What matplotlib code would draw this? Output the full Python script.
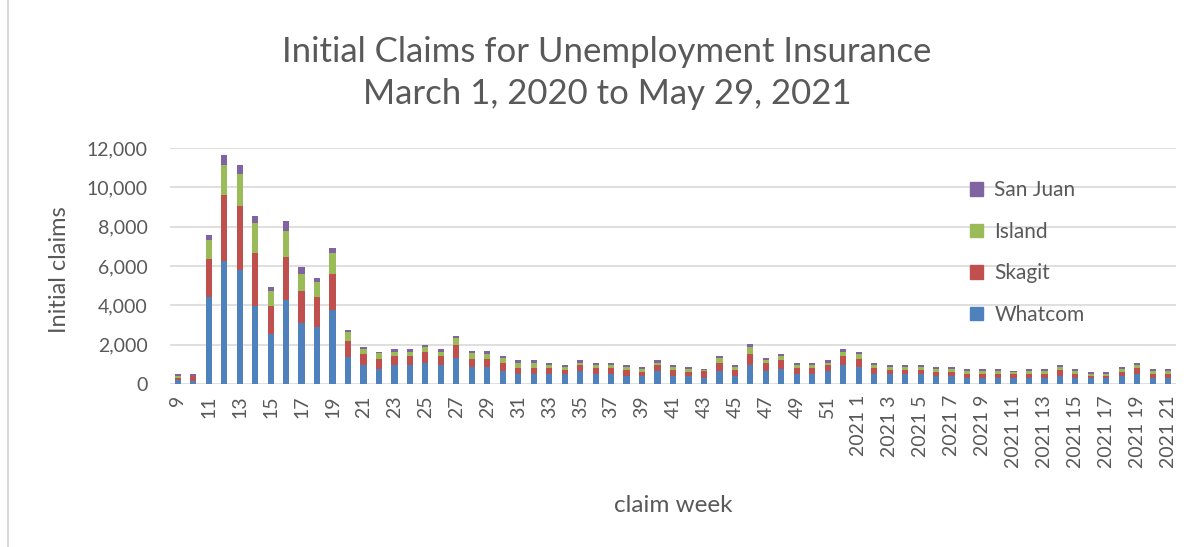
import matplotlib
matplotlib.use("Agg")
import matplotlib.pyplot as plt
import numpy as np
from matplotlib.patches import Patch
from matplotlib.lines import Line2D

weeks_2020 = list(range(9, 53))
weeks_2021 = list(range(1, 22))
categories = [str(w) for w in weeks_2020] + ["2021 " + str(w) for w in weeks_2021]

whatcom = [200, 170, 4400, 6240, 5800, 3980, 2560, 4290, 3100, 2880, 3760, 1390, 960, 740,
           960, 960, 1080, 960, 1310, 850, 850, 640, 530, 530, 530, 530, 640, 530, 530, 420,
           420, 640, 420, 420, 300, 640, 420, 960, 640, 740, 530, 530, 640, 960,
           850, 530, 530, 530, 530, 420, 420, 300, 300, 300, 300, 300, 300, 420, 300, 300,
           300, 420, 530, 300, 300]
skagit = [100, 240, 1940, 3360, 3250, 2700, 1390, 2150, 1610, 1530, 1810, 780, 570, 550,
          460, 460, 550, 460, 670, 440, 440, 440, 300, 300, 300, 190, 320, 300, 300, 300,
          210, 320, 300, 210, 340, 440, 300, 570, 440, 460, 300, 300, 320, 460,
          440, 300, 190, 190, 190, 210, 210, 230, 230, 230, 200, 230, 230, 300, 230, 120,
          120, 210, 300, 230, 230]
island = [100, 20, 1000, 1540, 1640, 1520, 800, 1320, 900, 760, 1100, 450, 250, 270,
          230, 230, 250, 230, 350, 270, 250, 230, 250, 250, 140, 140, 120, 140, 140, 140,
          120, 120, 140, 120, 70, 230, 140, 370, 120, 210, 120, 120, 120, 230,
          250, 120, 140, 140, 140, 120, 120, 120, 120, 120, 90, 120, 120, 140, 120, 110,
          110, 120, 140, 120, 120]
san_juan = [100, 80, 220, 520, 440, 320, 200, 540, 320, 220, 220, 110, 100, 90,
            120, 120, 120, 120, 120, 100, 120, 110, 120, 120, 120, 110, 120, 120, 120, 110,
            110, 120, 110, 110, 50, 110, 110, 110, 110, 120, 120, 120, 120, 120,
            110, 120, 110, 110, 110, 110, 110, 110, 110, 110, 70, 110, 110, 110, 110, 100,
            100, 110, 120, 110, 110]

series = [("Whatcom", whatcom, "#4F81BD"),
          ("Skagit", skagit, "#C0504D"),
          ("Island", island, "#9BBB59"),
          ("San Juan", san_juan, "#8064A2")]

plt.rcParams['font.family'] = ['Lato', 'DejaVu Sans']
gray = "#595959"

W, H = 1199, 547
fig = plt.figure(figsize=(W / 100, H / 100), dpi=100)
ax = fig.add_axes([170 / W, 1 - 384 / H, (1176 - 170) / W, (384 - 148) / H])

x = np.arange(len(categories))
bottom = np.zeros(len(categories))
for name, vals, col in series:
    v = np.array(vals, dtype=float)
    ax.bar(x, v, width=0.4, bottom=bottom, color=col, label=name, zorder=3)
    bottom += v

ax.set_xlim(-0.5, len(categories) - 0.5)
ax.set_ylim(0, 12000)
ax.set_yticks(np.arange(0, 12001, 2000))
ax.set_yticklabels([f"{v:,}" for v in range(0, 12001, 2000)])
ax.set_xticks(x[::2])
ax.set_xticklabels(categories[::2], rotation=90)
ax.tick_params(axis='both', length=0, colors=gray, labelsize=14)
ax.tick_params(axis='y', pad=16)
ax.tick_params(axis='x', pad=8)
ax.grid(axis='y', color="#d9d9d9", linewidth=1.2, zorder=0)
for s in ax.spines.values():
    s.set_visible(False)

fig.text(60 / W, 1 - 270 / H, "Initial claims", fontsize=17, color=gray, ha='center', va='center',
         rotation=90)
fig.text(673 / W, 1 - 505 / H, "claim week", fontsize=17.5, color=gray, ha='center', va='center')
fig.text(607 / W, 1 - 73 / H, "Initial Claims for Unemployment Insurance\nMarch 1, 2020 to May 29, 2021",
         fontsize=25, color=gray, ha='center', va='center', linespacing=1.42)

handles = [Patch(color=c) for _, _, c in series][::-1]
labels = [n for n, _, _ in series][::-1]
fig.legend(handles, labels, loc='upper left', bbox_to_anchor=(962 / W, 1 - 172 / H),
           frameon=False, fontsize=15, labelcolor=gray, handlelength=0.6, handleheight=0.6,
           handletextpad=0.55, labelspacing=1.03, borderaxespad=0)

fig.add_artist(Line2D([8 / W, 8 / W], [0, 1], color="#d9d9d9", linewidth=1.5, transform=fig.transFigure))

fig.savefig("out.png", dpi=100, facecolor="white")
